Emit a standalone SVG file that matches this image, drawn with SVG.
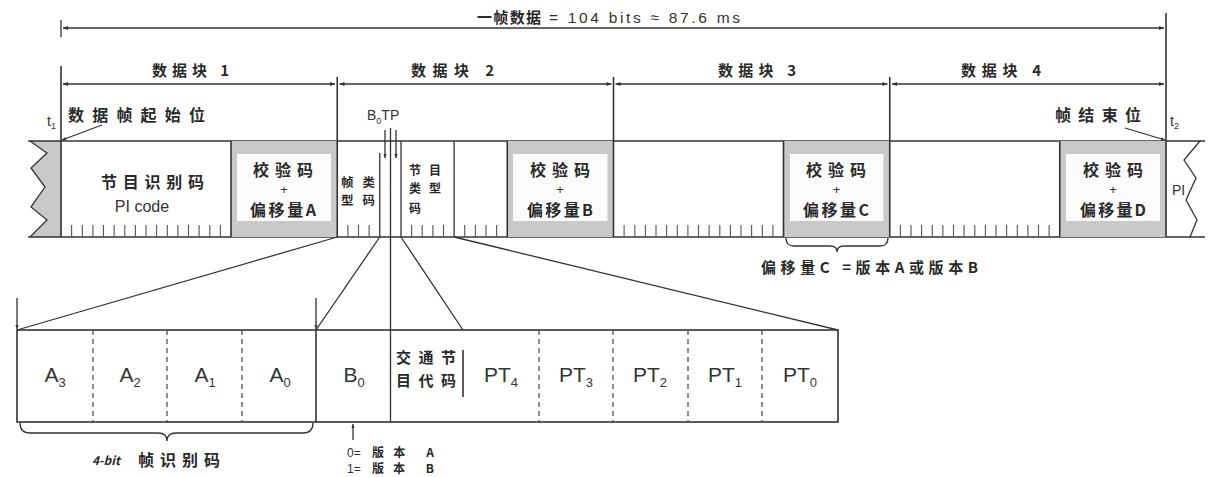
<svg xmlns="http://www.w3.org/2000/svg" width="1216" height="477" viewBox="0 0 1216 477">
<defs>
<style>
.ln{stroke:#333;stroke-width:1.3;fill:none}
.fr{stroke:#333;stroke-width:1.6;fill:none}
.tk{stroke:#555;stroke-width:1.1;fill:none}
.dash{stroke:#444;stroke-width:1.2;stroke-dasharray:5,4;fill:none}
.cj{font-family:"Noto Sans CJK SC","Noto Sans",sans-serif;font-weight:700;fill:#2a2a2a}
.lt{font-family:"Liberation Sans",Arial,sans-serif;fill:#333}
.gray{fill:#c9c9c9}
.inner{fill:#fbfbfb}
</style>
<marker id="ah" viewBox="0 0 10 10" refX="10" refY="5" markerWidth="9" markerHeight="5" markerUnits="userSpaceOnUse" orient="auto-start-reverse"><path d="M0,1 L10,5 L0,9 Z" fill="#333"/></marker>
<marker id="sa" viewBox="0 0 10 10" refX="10" refY="5" markerWidth="6" markerHeight="4" markerUnits="userSpaceOnUse" orient="auto"><path d="M0,1 L10,5 L0,9 Z" fill="#333"/></marker>
</defs>
<rect width="1216" height="477" fill="#fff"/>

<g id="dimensions">
<line class="ln" x1="61" y1="20" x2="61" y2="37"/>
<line class="ln" x1="63" y1="28" x2="1164" y2="28" marker-start="url(#ah)" marker-end="url(#ah)"/>
<text class="cj" x="477" y="23" font-size="15" textLength="64" lengthAdjust="spacing">一帧数据</text>
<text class="lt" x="549" y="23" font-size="15.5" textLength="191" lengthAdjust="spacing">= 104 bits ≈ 87.6 ms</text>
<line class="ln" x1="63" y1="84" x2="335" y2="84" marker-start="url(#ah)" marker-end="url(#ah)"/>
<line class="ln" x1="339.5" y1="84" x2="611.5" y2="84" marker-start="url(#ah)" marker-end="url(#ah)"/>
<line class="ln" x1="615.5" y1="84" x2="887.5" y2="84" marker-start="url(#ah)" marker-end="url(#ah)"/>
<line class="ln" x1="892" y1="84" x2="1164" y2="84" marker-start="url(#ah)" marker-end="url(#ah)"/>
<text class="cj" x="152" y="76" font-size="15" textLength="77" lengthAdjust="spacing">数据块 1</text>
<text class="cj" x="411" y="76" font-size="15" textLength="83" lengthAdjust="spacing">数据块 2</text>
<text class="cj" x="718" y="76" font-size="15" textLength="78" lengthAdjust="spacing">数据块 3</text>
<text class="cj" x="961" y="76" font-size="15" textLength="80" lengthAdjust="spacing">数据块 4</text>
</g>

<g id="frame">
<path d="M61,141 L30,141 L47,153 L31,168 L45,187 L31,207 L47,220 L30,237 L61,237 Z" class="gray"/>
<polyline class="ln" points="30,141 47,153 31,168 45,187 31,207 47,220 30,237"/>
<polyline class="ln" points="1200,141 1184,160 1196,178 1186,200 1197,220 1190,237"/>
<line class="fr" x1="28" y1="141" x2="1205" y2="141"/>
<line class="fr" x1="28" y1="237" x2="1205" y2="237"/>
</g>

<g id="cell-pi">
<text class="cj" x="101" y="188" font-size="16" textLength="103" lengthAdjust="spacing">节目识别码</text>
<text class="lt" x="142" y="212" font-size="16" text-anchor="middle">PI code</text>
</g>

<g id="cell-checkA">
<rect class="gray" x="231" y="141" width="106.25" height="96"/>
<rect class="inner" x="237" y="154" width="94" height="67"/>
<text class="cj" x="253" y="176" font-size="16" textLength="60" lengthAdjust="spacing">校验码</text>
<text class="lt" x="284" y="194" font-size="13" text-anchor="middle">+</text>
<text class="cj" x="250" y="216" font-size="16" textLength="66" lengthAdjust="spacing">偏移量A</text>
</g>

<g id="cell-checkB">
<rect class="gray" x="507.25" y="141" width="106.25" height="96"/>
<rect class="inner" x="513" y="154" width="94.5" height="67"/>
<text class="cj" x="530" y="176" font-size="16" textLength="60" lengthAdjust="spacing">校验码</text>
<text class="lt" x="560" y="194" font-size="13" text-anchor="middle">+</text>
<text class="cj" x="527" y="216" font-size="16" textLength="66" lengthAdjust="spacing">偏移量B</text>
</g>

<g id="cell-checkC">
<rect class="gray" x="783.5" y="141" width="106.25" height="96"/>
<rect class="inner" x="790" y="154" width="93.5" height="67"/>
<text class="cj" x="806" y="176" font-size="16" textLength="60" lengthAdjust="spacing">校验码</text>
<text class="lt" x="836.5" y="194" font-size="13" text-anchor="middle">+</text>
<text class="cj" x="803" y="216" font-size="16" textLength="66" lengthAdjust="spacing">偏移量C</text>
</g>

<g id="cell-checkD">
<rect class="gray" x="1059.75" y="141" width="106.25" height="96"/>
<rect class="inner" x="1066" y="154" width="94" height="67"/>
<text class="cj" x="1083" y="176" font-size="16" textLength="60" lengthAdjust="spacing">校验码</text>
<text class="lt" x="1113" y="194" font-size="13" text-anchor="middle">+</text>
<text class="cj" x="1080" y="216" font-size="16" textLength="66" lengthAdjust="spacing">偏移量D</text>
</g>

<g id="cell-group-type">
<text class="cj" x="341" y="187" font-size="12.5" textLength="34" lengthAdjust="spacing">帧类</text>
<text class="cj" x="341" y="205" font-size="12.5" textLength="34" lengthAdjust="spacing">型码</text>
</g>

<g id="cell-pty">
<text class="cj" x="409" y="175" font-size="12" textLength="32" lengthAdjust="spacing">节目</text>
<text class="cj" x="409" y="193" font-size="12" textLength="32" lengthAdjust="spacing">类型</text>
<text class="cj" x="409" y="213" font-size="12">码</text>
</g>

<g id="cell-pi-end">
<text class="lt" x="1172" y="195" font-size="14">PI</text>
</g>

<g id="frame-dividers">
<line class="fr" x1="61" y1="66" x2="61" y2="237"/>
<line class="fr" x1="231" y1="141" x2="231" y2="237"/>
<line class="fr" x1="337.25" y1="77" x2="337.25" y2="237"/>
<line class="ln" x1="379.75" y1="153" x2="379.75" y2="237"/>
<line class="ln" x1="401" y1="141" x2="401" y2="237"/>
<line class="ln" x1="454.1" y1="141" x2="454.1" y2="237"/>
<line class="fr" x1="507.25" y1="141" x2="507.25" y2="237"/>
<line class="fr" x1="613.5" y1="77" x2="613.5" y2="237"/>
<line class="fr" x1="783.5" y1="141" x2="783.5" y2="237"/>
<line class="fr" x1="889.75" y1="77" x2="889.75" y2="237"/>
<line class="fr" x1="1059.75" y1="141" x2="1059.75" y2="237"/>
<line class="fr" x1="1166" y1="13" x2="1166" y2="237"/>
<path class="tk" d="M71.6,225V237M82.3,225V237M92.9,225V237M103.5,225V237M114.1,225V237M124.8,225V237M135.4,225V237M146,225V237M156.6,225V237M167.3,225V237M177.9,225V237M188.5,225V237M199.1,225V237M209.8,225V237M220.4,225V237M347.9,225V237M358.5,225V237M369.1,225V237M411.6,225V237M422.2,225V237M432.9,225V237M443.5,225V237M464.7,225V237M475.4,225V237M486,225V237M496.6,225V237M624.1,225V237M634.8,225V237M645.4,225V237M656,225V237M666.6,225V237M677.3,225V237M687.9,225V237M698.5,225V237M709.1,225V237M719.8,225V237M730.4,225V237M741,225V237M751.6,225V237M762.3,225V237M772.9,225V237M900.4,225V237M911,225V237M921.6,225V237M932.3,225V237M942.9,225V237M953.5,225V237M964.1,225V237M974.8,225V237M985.4,225V237M996,225V237M1006.6,225V237M1017.3,225V237M1027.9,225V237M1038.5,225V237M1049.1,225V237"/>
</g>

<g id="labels-top">
<text class="cj" x="68" y="121" font-size="16" textLength="137" lengthAdjust="spacing">数据帧起始位</text>
<text class="cj" x="1055" y="121" font-size="16" textLength="86" lengthAdjust="spacing">帧结束位</text>
<text class="lt" x="47" y="126" font-size="14">t<tspan font-size="9" dy="3">1</tspan></text>
<text class="lt" x="1170" y="126" font-size="14">t<tspan font-size="9" dy="3">2</tspan></text>
<text class="lt" x="367" y="120" font-size="14">B<tspan font-size="9" dy="4">0</tspan><tspan dy="-4">TP</tspan></text>
</g>

<g id="lower-box">
<rect class="fr" x="17" y="330" width="821" height="92"/>
<line class="dash" x1="93" y1="330" x2="93" y2="422"/>
<line class="dash" x1="167" y1="330" x2="167" y2="422"/>
<line class="dash" x1="242" y1="330" x2="242" y2="422"/>
<line class="fr" x1="316" y1="330" x2="316" y2="422"/>
<line class="fr" x1="463" y1="350" x2="463" y2="397"/>
<line class="dash" x1="539" y1="330" x2="539" y2="422"/>
<line class="dash" x1="613" y1="330" x2="613" y2="422"/>
<line class="dash" x1="688" y1="330" x2="688" y2="422"/>
<line class="dash" x1="762" y1="330" x2="762" y2="422"/>
<text class="lt" x="55" y="382" font-size="21" text-anchor="middle">A<tspan font-size="13" dy="5">3</tspan></text>
<text class="lt" x="130" y="382" font-size="21" text-anchor="middle">A<tspan font-size="13" dy="5">2</tspan></text>
<text class="lt" x="205" y="382" font-size="21" text-anchor="middle">A<tspan font-size="13" dy="5">1</tspan></text>
<text class="lt" x="280" y="382" font-size="21" text-anchor="middle">A<tspan font-size="13" dy="5">0</tspan></text>
<text class="lt" x="354" y="382" font-size="21" text-anchor="middle">B<tspan font-size="13" dy="5">0</tspan></text>
<text class="cj" x="396" y="363" font-size="15" textLength="60" lengthAdjust="spacing">交通节</text>
<text class="cj" x="396" y="386" font-size="15" textLength="60" lengthAdjust="spacing">目代码</text>
<text class="lt" x="501" y="382" font-size="21" text-anchor="middle">PT<tspan font-size="13" dy="5">4</tspan></text>
<text class="lt" x="576" y="382" font-size="21" text-anchor="middle">PT<tspan font-size="13" dy="5">3</tspan></text>
<text class="lt" x="650" y="382" font-size="21" text-anchor="middle">PT<tspan font-size="13" dy="5">2</tspan></text>
<text class="lt" x="725" y="382" font-size="21" text-anchor="middle">PT<tspan font-size="13" dy="5">1</tspan></text>
<text class="lt" x="800" y="382" font-size="21" text-anchor="middle">PT<tspan font-size="13" dy="5">0</tspan></text>
</g>

<g id="brace-A">
<path class="ln" d="M20,423 Q20,433 30,433 L158,433 Q167,433 167,441 Q167,433 176,433 L303,433 Q313,433 313,423"/>
<text class="cj" x="92" y="465" font-size="12" font-style="italic">4-bit</text>
<text class="cj" x="138" y="466" font-size="16" textLength="82" lengthAdjust="spacing">帧识别码</text>
</g>

<g id="note-B0">
<text class="lt" x="347" y="457" font-size="12">0=</text>
<text class="cj" x="372" y="457" font-size="12" textLength="62" lengthAdjust="spacing">版本 A</text>
<text class="lt" x="347" y="473" font-size="12">1=</text>
<text class="cj" x="372" y="473" font-size="12" textLength="62" lengthAdjust="spacing">版本 B</text>
</g>

<g id="brace-C">
<path class="ln" d="M786,238 Q786,246 794,246 L830,246 Q837,246 837,252 Q837,246 844,246 L880,246 Q888,246 888,238"/>
<text class="cj" x="761" y="273" font-size="15" textLength="217" lengthAdjust="spacing">偏移量C =版本A或版本B</text>
</g>

<g id="connectors">
<line class="ln" x1="102" y1="125" x2="62" y2="140" marker-end="url(#sa)"/>
<line class="ln" x1="1125" y1="128" x2="1165" y2="140" marker-end="url(#sa)"/>
<line class="ln" x1="385" y1="130" x2="385" y2="158" marker-end="url(#sa)"/>
<line class="ln" x1="396" y1="130" x2="396" y2="158" marker-end="url(#sa)"/>
<line class="ln" x1="390.5" y1="128" x2="390.5" y2="422"/>
<line class="ln" x1="337.25" y1="237" x2="17" y2="330"/>
<line class="ln" x1="379.75" y1="237" x2="316" y2="330"/>
<line class="ln" x1="401" y1="237" x2="463" y2="330"/>
<line class="ln" x1="454.1" y1="237" x2="838" y2="330"/>
<line class="ln" x1="17" y1="298" x2="17" y2="329" marker-end="url(#sa)"/>
<line class="ln" x1="316" y1="298" x2="316" y2="329" marker-end="url(#sa)"/>
<line class="ln" x1="353" y1="440" x2="353" y2="424" marker-end="url(#sa)"/>
</g>
</svg>
